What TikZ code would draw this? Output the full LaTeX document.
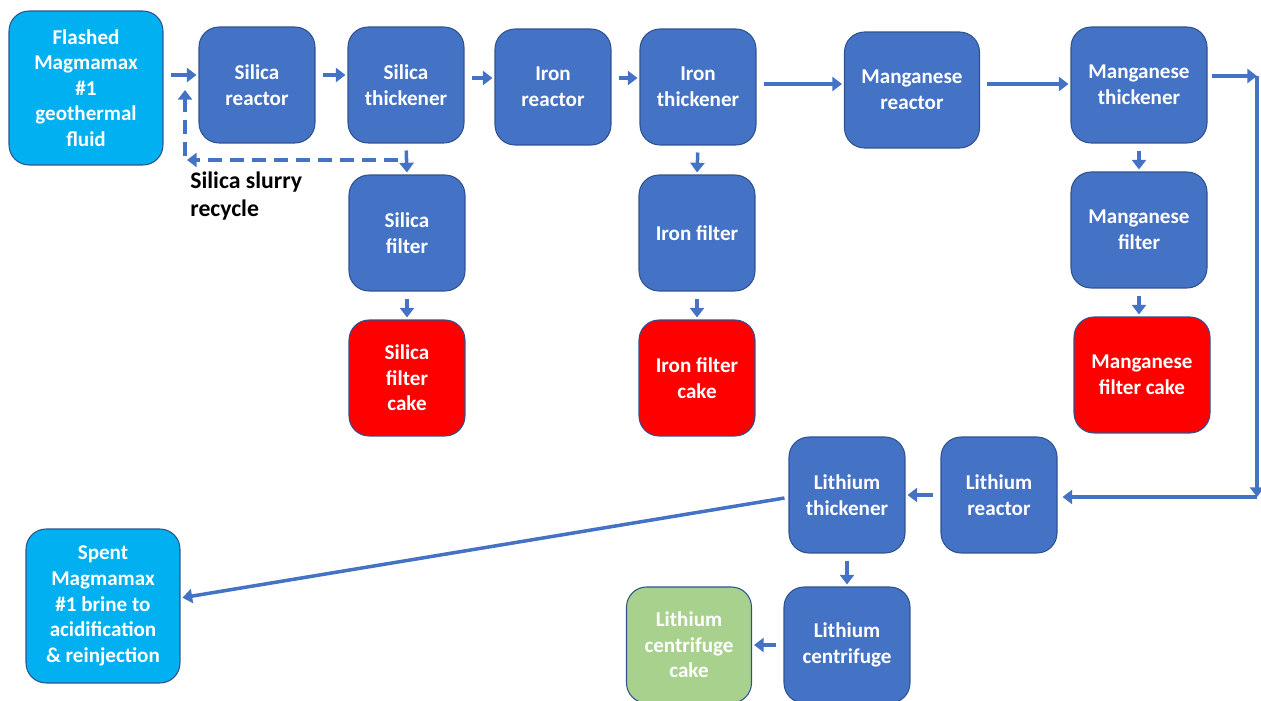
\documentclass[tikz,border=0pt]{standalone}
\usepackage{fontspec}
\setmainfont{Carlito}
\usetikzlibrary{arrows.meta,calc}
\definecolor{procblue}{HTML}{4472C4}
\definecolor{feedblue}{HTML}{00B0F0}
\definecolor{edgeblue}{HTML}{2F528F}
\definecolor{cakegreen}{HTML}{A9D18E}
\tikzset{
  unit/.style={draw=edgeblue, line width=0.6pt, rounded corners=0.4cm, fill=procblue, text=white,
    font=\fontsize{12}{14.6}\selectfont\bfseries, align=center, inner sep=0pt,
    minimum width=2.32cm, minimum height=2.32cm},
  feed/.style={unit, fill=feedblue, minimum width=3.08cm, minimum height=3.08cm},
  cake/.style={unit, fill=red},
  flow/.style={-{Triangle[length=5.5pt,width=8pt]}, procblue, line width=2pt,
    shorten <=0.14cm, shorten >=0.04cm},
  recycle/.style={flow, dash pattern=on 8pt off 4.5pt, shorten <=0pt},
}
\begin{document}
\begin{tikzpicture}[x=0.02cm, y=-0.02cm, line join=round]
  \clip (0,0) rectangle (1261,700);
  % top row
  \node[feed] (fl) at (86,88) {Flashed\\Magmamax\\\#1\\geothermal\\fluid};
  \node[unit] (sr) at (257,85) {Silica\\reactor};
  \node[unit] (st) at (406,85) {Silica\\thickener};
  \node[unit] (ir) at (553,87) {Iron\\reactor};
  \node[unit] (it) at (698,87) {Iron\\thickener};
  \node[unit, minimum width=2.7cm] (mr) at (912,90) {Manganese\\reactor};
  \node[unit, minimum width=2.72cm] (mt) at (1139,85) {Manganese\\thickener};
  % filters and cakes
  \node[unit] (sf) at (407,233) {Silica\\filter};
  \node[cake] (sfc) at (407,378) {Silica\\filter\\cake};
  \node[unit] (if) at (697,233) {Iron filter};
  \node[cake] (ifc) at (697,378) {Iron filter\\cake};
  \node[unit, minimum width=2.72cm] (mf) at (1139,230) {Manganese\\filter};
  \node[cake, minimum width=2.72cm] (mfc) at (1142,375) {Manganese\\filter cake};
  % lithium
  \node[unit] (lt) at (847,495) {Lithium\\thickener};
  \node[unit] (lr) at (999,495) {Lithium\\reactor};
  \node[unit, minimum width=2.52cm] (lc) at (847,645) {Lithium\\centrifuge};
  \node[unit, fill=cakegreen, minimum width=2.5cm] (lcc) at (689,645) {Lithium\\centrifuge\\cake};
  \node[feed] (sp) at (103,606) {Spent\\Magmamax\\\#1 brine to\\acidification\\\& reinjection};
  \node[anchor=north west, align=left, inner sep=0pt, font=\fontsize{13.5}{15.6}\selectfont\bfseries] (lbl) at (190,172) {Silica slurry\\recycle};

  \draw[flow] ($(fl.east |- sr.west)+(0,-10)$) -- ($(sr.west)+(0,-10)$);
  \draw[flow] ($(sr.east)+(0,-10)$) -- ($(st.west)+(0,-10)$);
  \draw[flow] ($(st.east |- ir.west)+(0,-9)$) -- ($(ir.west)+(0,-9)$);
  \draw[flow] ($(ir.east)+(0,-9)$) -- ($(it.west)+(0,-9)$);
  \draw[flow] ($(it.east |- mr.west)+(0,-6)$) -- ($(mr.west)+(0,-6)$);
  \draw[flow] ($(mr.east |- mt.west)+(0,-1)$) -- ($(mt.west)+(0,-1)$);
  \draw[flow] (st.south) -- (sf.north);
  \draw[flow] (sf.south) -- (sfc.north);
  \draw[flow] (it.south) -- (if.north);
  \draw[flow] (if.south) -- (ifc.north);
  \draw[flow] (mt.south) -- (mf.north);
  \draw[flow] (mf.south) -- (mf.south |- mfc.north);
  % recycle loop
  \coordinate (rc) at (185,160);
  \coordinate (rt) at (185,88);
  \draw[recycle] ($(st.south |- rc)+(-8,0)$) -- (rc);
  \draw[recycle] ($(rc)+(0,-4)$) -- (rt);
  % around to lithium
  \coordinate (cr1) at (1257,76);
  \coordinate (cr2) at (1257,497);
  \draw[flow, shorten <=0.08cm, shorten >=0pt] ($(mt.east)+(0,-9)$) -- (cr1);
  \draw[flow, shorten <=0pt, shorten >=0pt] (cr1) -- (cr2);
  \draw[flow, shorten <=0pt, shorten >=0.1cm] (cr2) -- (cr2 -| lr.east);
  \draw[flow] (lr.west) -- (lt.east);
  \draw[flow] (lt.south) -- (lc.north);
  \draw[flow] (lc.west) -- (lcc.east);
  \draw[flow, shorten <=0pt] ($(lt.west)+(-4,3)$) -- ($(sp.east)+(0,-8)$);
\end{tikzpicture}
\end{document}
